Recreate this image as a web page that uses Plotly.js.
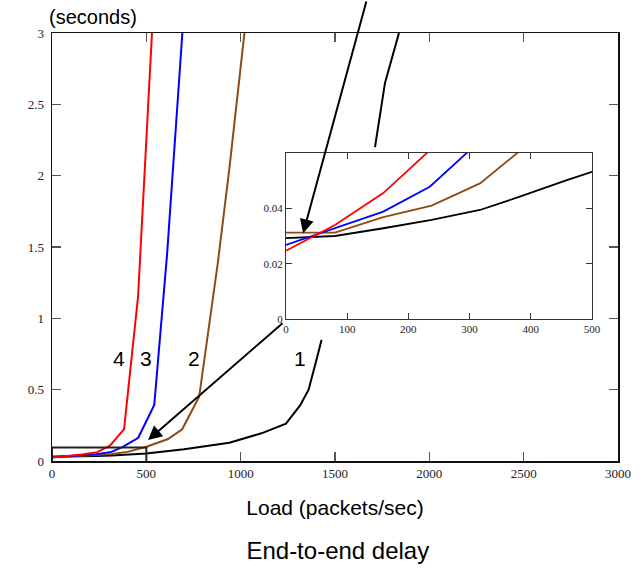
<!DOCTYPE html>
<html>
<head>
<meta charset="utf-8">
<script src="https://cdn.plot.ly/plotly-3.0.1.min.js"></script>
<style>html,body{margin:0;padding:0;background:#fff;}#chart{width:643px;height:568px;}</style>
</head>
<body>
<div id="chart"></div>
<script>
// ---- data ----
const load1  = [0, 80, 159, 238, 317, 382, 459, 500, 700, 940, 1110, 1240, 1315, 1360, 1400, 1429, 1570, 1712, 1765, 1839];
const delay1 = [0.0292, 0.030, 0.0328, 0.0358, 0.0394, 0.0442, 0.0502, 0.0532, 0.082, 0.128, 0.194, 0.262, 0.39, 0.50, 0.70, 0.85, null, 2.20, 2.65, 3.0];
const load2  = [0, 80, 159, 238, 317, 400, 501, 615, 690, 780, 880, 940, 1020];
const delay2 = [0.0312, 0.0312, 0.0368, 0.041, 0.049, 0.064, 0.10, 0.154, 0.222, 0.45, 1.40, 2.05, 3.0];
const load3  = [0, 80, 159, 235, 315, 378, 457, 542, 610, 691];
const delay3 = [0.0268, 0.0328, 0.0388, 0.0478, 0.064, 0.100, 0.163, 0.393, 1.45, 3.0];
const load4  = [0, 80, 159, 240, 307, 382, 456, 530];
const delay4 = [0.0247, 0.034, 0.0455, 0.062, 0.108, 0.224, 1.15, 3.0];

const curveNames  = ['1', '2', '3', '4'];
const curveColors = ['#000000', '#8c4b14', '#0000ff', '#ff0000'];
const curveLabelX = [1314, 753, 498, 355];
const curveLabelY = [0.72, 0.715, 0.715, 0.715];

const mainXTicks  = [0, 500, 1000, 1500, 2000, 2500, 3000];
const mainYTicks  = [0, 0.5, 1, 1.5, 2, 2.5, 3];
const insetXTicks = [0, 100, 200, 300, 400, 500];
const insetYTicks = [0, 0.02, 0.04];
const insetYText  = ['0', '0.02', '0.04'];

const zoomBoxX = [0, 500];
const zoomBoxY = [-0.01, 0.094];

const loads  = [load1, load2, load3, load4];
const delays = [delay1, delay2, delay3, delay4];

const traces = [];
for (let i = 0; i < 4; i++) {
  traces.push({x: loads[i], y: delays[i], type: 'scatter', mode: 'lines', name: curveNames[i],
    xaxis: 'x', yaxis: 'y', line: {color: curveColors[i], width: 2}, hoverinfo: 'skip'});
}
for (let i = 0; i < 4; i++) {
  traces.push({x: loads[i], y: delays[i], type: 'scatter', mode: 'lines', name: curveNames[i] + ' (zoom)',
    xaxis: 'x2', yaxis: 'y2', line: {color: curveColors[i], width: 1.8}, hoverinfo: 'skip'});
}

const serif = '"Liberation Serif", "Times New Roman", Times, serif';
const tickFontMain = {family: serif, size: 13, color: '#222'};
const tickFontInset = {family: serif, size: 11, color: '#222'};
const sans = '"Liberation Sans", Arial, sans-serif';

const annotations = [];
for (let i = 0; i < 4; i++) {
  annotations.push({xref: 'x', yref: 'y', x: curveLabelX[i], y: curveLabelY[i], text: curveNames[i],
    showarrow: false, font: {family: sans, size: 21, color: '#000'}});
}
annotations.push({xref: 'paper', yref: 'paper', x: -0.008, y: 1.037, xanchor: 'left', yanchor: 'middle',
  text: '(seconds)', showarrow: false, font: {family: sans, size: 20, color: '#000'}});
// arrow from inset corner to the zoom box
annotations.push({xref: 'x', yref: 'y', x: 509, y: 0.147, axref: 'x', ayref: 'y', ax: 1230, ay: 0.975,
  text: '', showarrow: true, arrowhead: 2, arrowsize: 1.4, arrowwidth: 2, arrowcolor: '#000', standoff: 0, startstandoff: 0});
// arrow into the inset
annotations.push({xref: 'x2', yref: 'y2', x: 28, y: 0.031, axref: 'x2', ayref: 'y2', ax: 132, ay: 0.1153,
  text: '', showarrow: true, arrowhead: 2, arrowsize: 1.4, arrowwidth: 2, arrowcolor: '#000', standoff: 0, startstandoff: 0});

const layout = {
  width: 643, height: 568,
  margin: {l: 52, r: 25, t: 33, b: 107},
  paper_bgcolor: '#ffffff', plot_bgcolor: '#ffffff',
  showlegend: false,
  title: {text: 'End-to-end delay', font: {family: sans, size: 24, color: '#000'},
    x: 0.505, xanchor: 'center', xref: 'paper', y: 0.03, yref: 'container', yanchor: 'middle'},
  xaxis: {domain: [0, 1], range: [0, 3000], tickvals: mainXTicks, ticks: 'inside', ticklen: 9, tickwidth: 1.5, tickcolor: '#555',
    showline: true, linecolor: '#111', linewidth: 1.5, mirror: 'ticks', showgrid: false, zeroline: false,
    tickfont: tickFontMain, anchor: 'y',
    title: {text: 'Load (packets/sec)', font: {family: sans, size: 21, color: '#000'}, standoff: 20}},
  yaxis: {domain: [0, 1], range: [0, 3], tickvals: mainYTicks, ticks: 'inside', ticklen: 9, tickwidth: 1.5, tickcolor: '#555',
    showline: true, linecolor: '#111', linewidth: 1.5, mirror: 'ticks', showgrid: false, zeroline: false,
    tickfont: tickFontMain, anchor: 'x', ticklabelstandoff: 4},
  xaxis2: {domain: [0.4134, 0.954], range: [0, 500], tickvals: insetXTicks, ticks: 'inside', ticklen: 6, tickwidth: 1, tickcolor: '#333',
    showline: true, linecolor: '#333', linewidth: 1, mirror: 'ticks', showgrid: false, zeroline: false,
    tickfont: tickFontInset, anchor: 'y2'},
  yaxis2: {domain: [0.3318, 0.7196], range: [0, 0.06], tickvals: insetYTicks, ticktext: insetYText, ticks: 'inside', ticklen: 6, tickwidth: 1, tickcolor: '#333',
    showline: true, linecolor: '#333', linewidth: 1, mirror: 'ticks', showgrid: false, zeroline: false,
    tickfont: tickFontInset, anchor: 'x2'},
  shapes: [{type: 'rect', xref: 'x', yref: 'y', x0: zoomBoxX[0], x1: zoomBoxX[1], y0: zoomBoxY[0], y1: zoomBoxY[1],
    line: {color: '#222', width: 2}, fillcolor: 'rgba(0,0,0,0)', layer: 'above'}],
  annotations: annotations
};

Plotly.newPlot('chart', traces, layout, {staticPlot: true, displayModeBar: false});
</script>
</body>
</html>
